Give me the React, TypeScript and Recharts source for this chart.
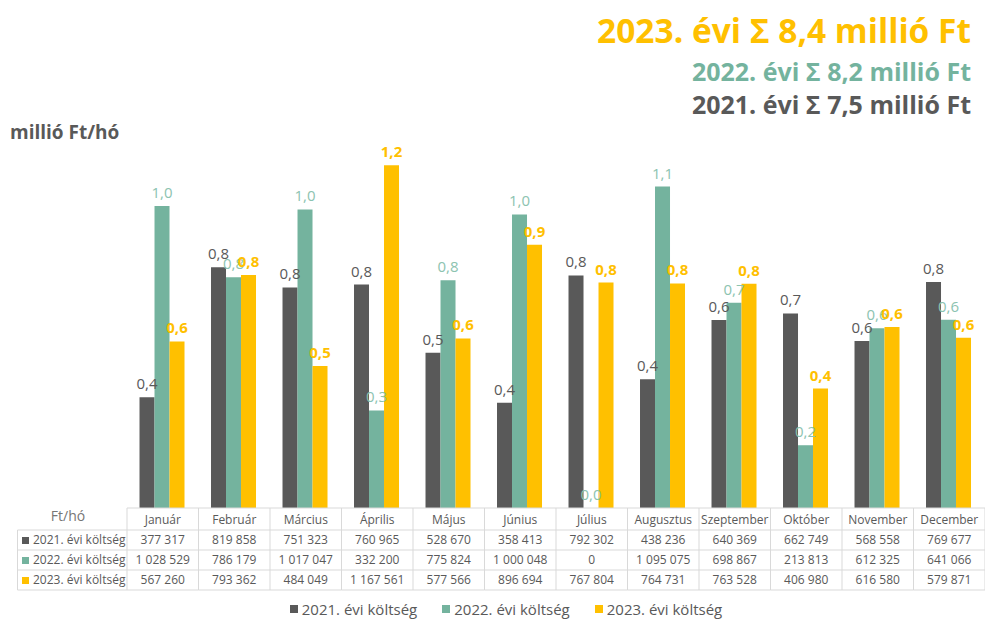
import { BarChart, Bar, XAxis, YAxis, LabelList, Legend } from 'recharts'

const months = [
  'Január', 'Február', 'Március', 'Április', 'Május', 'Június',
  'Július', 'Augusztus', 'Szeptember', 'Október', 'November', 'December',
]
const cost2021 = [377317, 819858, 751323, 760965, 528670, 358413, 792302, 438236, 640369, 662749, 568558, 769677]
const cost2022 = [1028529, 786179, 1017047, 332200, 775824, 1000048, 0, 1095075, 698867, 213813, 612325, 641066]
const cost2023 = [567260, 793362, 484049, 1167561, 577566, 896694, 767804, 764731, 763528, 406980, 616580, 579871]

const seriesNames = ['2021. évi költség', '2022. évi költség', '2023. évi költség']
const yearLabels = ['2021', '2022', '2023']
const COLORS = ['#595959', '#74b39e', '#ffc000']
const LABEL_COLORS = ['#595959', '#8cc3b0', '#ffc000']

const FONT = '"Open Sans", sans-serif'
const TEXT = '#595959'
const GRID = '#d9d9d9'
const COL_W = 858 / 12

const data = months.map((m, i) => ({
  month: m,
  c2021: cost2021[i],
  c2022: cost2022[i],
  c2023: cost2023[i],
}))

const rows = [cost2021, cost2022, cost2023]

const million = (v: number) => (v / 1e6).toFixed(1).replace('.', ',')
const spaced = (v: number) => String(v).replace(/\B(?=(\d{3})+(?!\d))/g, ' ')
const total = (arr: number[]) => million(arr.reduce((a, b) => a + b, 0))

// month header + value rows drawn as the x axis ticks, so columns follow the band scale
function TableTick(props: any) {
  const { x, y, payload } = props
  const i = payload.index
  const left = x - COL_W / 2
  const right = x + COL_W / 2
  const bottom = y + 82
  return (
    <g fontFamily={FONT}>
      <line x1={left} y1={y} x2={left} y2={bottom} stroke={GRID} />
      {i === months.length - 1 && <line x1={right} y1={y} x2={right} y2={bottom} stroke={GRID} />}
      {[22, 42, 62, 82].map((dy) => (
        <line key={dy} x1={left} y1={y + dy} x2={right} y2={y + dy} stroke={GRID} />
      ))}
      <text x={x} y={y + 15.5} textAnchor="middle" fontSize={12} fill={TEXT}>
        {months[i]}
      </text>
      {rows.map((r, k) => (
        <text key={k} x={x} y={y + 36 + k * 20} textAnchor="middle" fontSize={12} fill={TEXT}>
          {spaced(r[i])}
        </text>
      ))}
      {i === 0 && (
        <g>
          <text x={68} y={y + 13} textAnchor="middle" fontSize={14} fill="#767676">
            Ft/hó
          </text>
          <line x1={17.5} y1={y + 22} x2={17.5} y2={bottom} stroke={GRID} />
          {[22, 42, 62, 82].map((dy) => (
            <line key={dy} x1={17.5} y1={y + dy} x2={left} y2={y + dy} stroke={GRID} />
          ))}
          {seriesNames.map((n, k) => (
            <g key={n}>
              <rect x={22} y={y + 29 + k * 20} width={7} height={7} fill={COLORS[k]} />
              <text x={33} y={y + 36 + k * 20} fontSize={12} fill={TEXT}>
                {n}
              </text>
            </g>
          ))}
        </g>
      )}
    </g>
  )
}

function LegendContent() {
  return (
    <div
      style={{
        height: 29,
        width: 985,
        display: 'flex',
        justifyContent: 'center',
        alignItems: 'flex-end',
        gap: 25,
        paddingLeft: 27,
        boxSizing: 'border-box',
        fontFamily: FONT,
        fontSize: 15,
        color: TEXT,
      }}
    >
      {seriesNames.map((n, k) => (
        <div key={n} style={{ display: 'flex', alignItems: 'center', gap: 4, lineHeight: '20px' }}>
          <span style={{ width: 8, height: 8, background: COLORS[k], display: 'inline-block' }} />
          <span>{n}</span>
        </div>
      ))}
    </div>
  )
}

export default function App() {
  const totals = [cost2021, cost2022, cost2023].map(total)
  return (
    <div style={{ position: 'absolute', left: 0, top: 0, width: 985, height: 619, background: '#fff' }}>
      <BarChart
        width={985}
        height={619}
        data={data}
        margin={{ top: 97, right: 0, left: 127, bottom: 0 }}
        barCategoryGap="17.5%"
        barGap={0}
      >
        <XAxis
          dataKey="month"
          height={82}
          interval={0}
          tickSize={0}
          tickMargin={0}
          axisLine={{ stroke: GRID }}
          tickLine={false}
          tick={<TableTick />}
        />
        <YAxis hide domain={[0, 1400000]} />
        <Legend
          verticalAlign="bottom"
          wrapperStyle={{ left: 0, width: 985 }}
          content={<LegendContent />}
        />
        {['c2021', 'c2022', 'c2023'].map((key, k) => (
          <Bar
            key={key}
            dataKey={key}
            name={seriesNames[k]}
            fill={COLORS[k]}
            minPointSize={0.01}
            isAnimationActive={false}
          >
            <LabelList
              dataKey={key}
              position="top"
              offset={8}
              formatter={(v: any) => million(Number(v))}
              fill={LABEL_COLORS[k]}
              fontSize={15}
              fontWeight={k === 2 ? 700 : 400}
              fontFamily={FONT}
            />
          </Bar>
        ))}
      </BarChart>
      <svg
        width={985}
        height={619}
        style={{ position: 'absolute', left: 0, top: 0, pointerEvents: 'none' }}
        fontFamily={FONT}
        fontWeight={700}
      >
        <text x={971} y={43} textAnchor="end" fontSize={33.5} fill={COLORS[2]}>
          {`${yearLabels[2]}. évi Σ ${totals[2]} millió Ft`}
        </text>
        <text x={971} y={81} textAnchor="end" fontSize={25} fill={COLORS[1]}>
          {`${yearLabels[1]}. évi Σ ${totals[1]} millió Ft`}
        </text>
        <text x={971} y={114} textAnchor="end" fontSize={25} fill={COLORS[0]}>
          {`${yearLabels[0]}. évi Σ ${totals[0]} millió Ft`}
        </text>
        <text x={10} y={139} fontSize={19} fill={TEXT}>
          millió Ft/hó
        </text>
      </svg>
    </div>
  )
}
